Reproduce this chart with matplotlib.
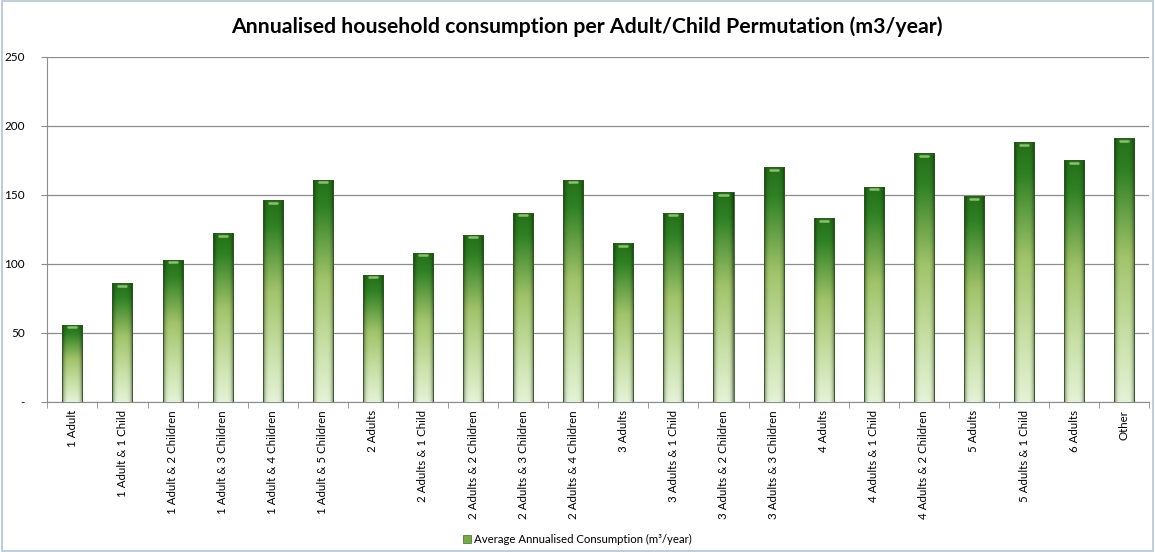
import matplotlib
matplotlib.use("Agg")
import matplotlib.pyplot as plt
import numpy as np
from matplotlib.colors import LinearSegmentedColormap
from matplotlib.patches import Patch, Rectangle

plt.rcParams['font.family'] = ['Lato', 'DejaVu Sans']

# data
categories = ['1 Adult', '1 Adult & 1 Child', '1 Adult & 2 Children', '1 Adult & 3 Children',
              '1 Adult & 4 Children', '1 Adult & 5 Children', '2 Adults', '2 Adults & 1 Child',
              '2 Adults & 2 Children', '2 Adults & 3 Children', '2 Adults & 4 Children', '3 Adults',
              '3 Adults & 1 Child', '3 Adults & 2 Children', '3 Adults & 3 Children', '4 Adults',
              '4 Adults & 1 Child', '4 Adults & 2 Children', '5 Adults', '5 Adults & 1 Child',
              '6 Adults', 'Other']
consumption = [56, 86, 103, 122, 146, 161, 92, 108, 121, 137, 161, 115,
               137, 152, 170, 133, 156, 180, 149, 188, 175, 191]
yticks = [0, 50, 100, 150, 200, 250]
ytick_labels = ['-', '50', '100', '150', '200', '250']

fig = plt.figure(figsize=(11.55, 5.52), dpi=100)
ax = fig.add_axes([0.041, 0.272, 0.954, 0.625])

# outer chart frame
fig.patches.append(Rectangle((0.002, 0.002), 0.996, 0.996, transform=fig.transFigure,
                             fill=False, edgecolor='#b4c4d4', linewidth=1.2))

x = np.arange(len(categories))
bars = ax.bar(x, consumption, width=0.4, color='none', edgecolor='none', zorder=3)

# glossy green gradient for each bar
cmap = LinearSegmentedColormap.from_list('g', [
    (0.0, '#257019'), (0.12, '#2f8024'), (0.45, '#a2c46b'),
    (0.75, '#c8e0a6'), (1.0, '#e4f3d6')])
v = np.linspace(0, 1, 200)[:, None]
u = np.linspace(0, 1, 40)[None, :]
rgb = cmap(np.repeat(v, 40, axis=1))[..., :3]
shade = 1 - 0.55 * (np.abs(u - 0.5) * 2) ** 5
rgb = rgb * shade[..., None]
for b in bars:
    bx, bw, bh = b.get_x(), b.get_width(), b.get_height()
    im = ax.imshow(rgb, extent=[bx, bx + bw, 0, bh], aspect='auto', zorder=3,
                   interpolation='bilinear')
    im.set_clip_path(b)
    ax.add_patch(Rectangle((bx, 0), bw, bh, fill=False, edgecolor='#2f5a22',
                           linewidth=0.6, zorder=4))
    ax.plot([bx + bw * 0.3, bx + bw * 0.7], [bh - 1.8, bh - 1.8], color='#8cc070',
            linewidth=1.8, solid_capstyle='round', zorder=5)

ax.set_xlim(-0.5, len(categories) - 0.5)
ax.set_ylim(0, 250)
ax.set_yticks(yticks)
ax.set_yticklabels(ytick_labels, fontsize=8.5)
ax.yaxis.grid(True, color='#8c8c8c', linewidth=0.9)
ax.set_axisbelow(True)

ax.set_xticks(x)
ax.set_xticklabels(categories, rotation=90, fontsize=8.3)
ax.tick_params(axis='x', which='major', length=0, pad=6)
ax.set_xticks(np.arange(-0.5, len(categories), 1), minor=True)
ax.tick_params(axis='x', which='minor', length=4, color='#8c8c8c')
ax.tick_params(axis='y', length=4, color='#8c8c8c', pad=12)

for s in ['top', 'right']:
    ax.spines[s].set_visible(False)
for s in ['left', 'bottom']:
    ax.spines[s].set_color('#8c8c8c')

fig.suptitle('Annualised household consumption per Adult/Child Permutation (m3/year)',
             fontsize=15.3, fontweight='bold', x=0.508, y=0.97)

fig.legend(handles=[Patch(facecolor='#79a84a', edgecolor='#3d6a28', linewidth=0.5)],
           labels=['Average Annualised Consumption (m\u00b3/year)'],
           loc='center', bbox_to_anchor=(0.5, 0.022), frameon=False, fontsize=8.2,
           handlelength=0.7, handleheight=0.7, handletextpad=0.3)

fig.savefig('out.png', dpi=100)
